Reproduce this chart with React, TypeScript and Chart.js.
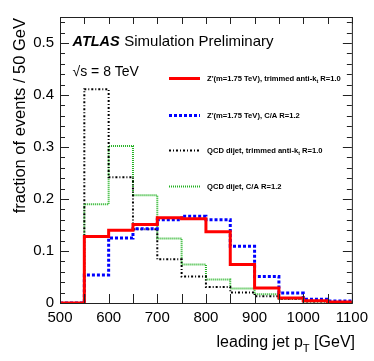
import React, { useEffect, useRef } from 'react';
import { Chart, registerables } from 'chart.js';

Chart.register(...registerables);

// ---------- data ----------
const binLowEdges = [500, 550, 600, 650, 700, 750, 800, 850, 900, 950, 1000, 1050];
const lastBinUpEdge = 1100;

const zpTrimmed = [0, 0.128, 0.140, 0.151, 0.164, 0.162, 0.137, 0.074, 0.029, 0.0096, 0.0045, 0.002];
const zpCA = [0, 0.054, 0.125, 0.143, 0.160, 0.167, 0.160, 0.109, 0.051, 0.019, 0.007, 0.004];
const qcdTrimmed = [0, 0.411, 0.242, 0.142, 0.084, 0.051, 0.031, 0.020, 0.013, 0.008, 0.003, 0.001];
const qcdCA = [0, 0.190, 0.302, 0.207, 0.124, 0.074, 0.045, 0.028, 0.017, 0.008, 0.003, 0.002];

const seriesLabels = [
  "Z'(m=1.75 TeV), trimmed anti-k_{t} R=1.0",
  "Z'(m=1.75 TeV), C/A R=1.2",
  'QCD dijet, trimmed anti-k_{t} R=1.0',
  'QCD dijet, C/A R=1.2',
];

const xTickValues = [500, 600, 700, 800, 900, 1000, 1100];
const xTickLabels = ['500', '600', '700', '800', '900', '1000', '1100'];
const yTickValues = [0, 0.1, 0.2, 0.3, 0.4, 0.5];
const yTickLabels = ['0', '0.1', '0.2', '0.3', '0.4', '0.5'];

const xTitle = 'leading jet p_{T} [GeV]';
const yTitle = 'fraction of events / 50 GeV';
const atlasLabel = 'ATLAS';
const atlasSub = 'Simulation Preliminary';
const energyLabel = '√s = 8 TeV';

const FONT = '"Liberation Sans", Arial, Helvetica, sans-serif';

function toSteps(values: number[]) {
  // point at each bin's low edge carries that bin's value; with stepped 'before'
  // the line runs flat at the previous bin's value, then jumps at the edge
  const pts = binLowEdges.map((x, i) => ({ x, y: values[i] }));
  pts.push({ x: lastBinUpEdge, y: values[values.length - 1] });
  return pts;
}

// draw text with _{...} subscripts
function drawRich(
  ctx: CanvasRenderingContext2D,
  text: string,
  x: number,
  y: number,
  size: number,
  weight: string,
  align: 'left' | 'right'
) {
  const parts: { t: string; sub: boolean }[] = [];
  const re = /_\{([^}]*)\}/g;
  let last = 0;
  let m;
  while ((m = re.exec(text))) {
    if (m.index > last) parts.push({ t: text.slice(last, m.index), sub: false });
    parts.push({ t: m[1], sub: true });
    last = m.index + m[0].length;
  }
  if (last < text.length) parts.push({ t: text.slice(last), sub: false });
  const mainFont = `${weight} ${size}px ${FONT}`;
  const subFont = `${weight} ${size * 0.7}px ${FONT}`;
  let total = 0;
  const widths = parts.map((p) => {
    ctx.font = p.sub ? subFont : mainFont;
    const w = ctx.measureText(p.t).width;
    total += w;
    return w;
  });
  let cx = align === 'right' ? x - total : x;
  ctx.textAlign = 'left';
  parts.forEach((p, i) => {
    ctx.font = p.sub ? subFont : mainFont;
    ctx.fillText(p.t, cx, p.sub ? y + size * 0.3 : y);
    cx += widths[i];
  });
}

const decorPlugin = {
  id: 'decor',
  afterDraw(chart: any) {
    const ctx: CanvasRenderingContext2D = chart.ctx;
    const { left, right, top, bottom } = chart.chartArea;
    const xs = chart.scales.x;
    const ys = chart.scales.y;
    ctx.save();
    // frame
    ctx.strokeStyle = '#222';
    ctx.lineWidth = 1;
    ctx.strokeRect(left + 0.5, top + 0.5, right - left, bottom - top);
    // x ticks every 50
    ctx.beginPath();
    for (let v = 500; v <= 1100; v += 50) {
      const px = Math.round(xs.getPixelForValue(v)) + 0.5;
      ctx.moveTo(px, bottom);
      ctx.lineTo(px, bottom - 9);
      ctx.moveTo(px, top);
      ctx.lineTo(px, top + 7);
    }
    // y ticks every 0.02, major every 0.1
    for (let i = 0; i <= 27; i++) {
      const v = i * 0.02;
      const py = Math.round(ys.getPixelForValue(v)) + 0.5;
      const major = i % 5 === 0;
      const len = major ? 9 : 5;
      ctx.moveTo(left, py);
      ctx.lineTo(left + len, py);
      ctx.moveTo(right, py);
      ctx.lineTo(right - len, py);
    }
    ctx.stroke();

    ctx.fillStyle = '#000';
    ctx.textBaseline = 'alphabetic';
    // x title
    drawRich(ctx, xTitle, 355, 347, 16, 'normal', 'right');
    // y title
    ctx.save();
    ctx.translate(25, 18);
    ctx.rotate(-Math.PI / 2);
    ctx.font = `16.5px ${FONT}`;
    ctx.textAlign = 'right';
    ctx.fillText(yTitle, 0, 0);
    ctx.restore();

    // ATLAS label
    ctx.textAlign = 'left';
    ctx.font = `italic bold 14.5px ${FONT}`;
    ctx.fillText(atlasLabel, 72.5, 46);
    const aw = ctx.measureText(atlasLabel).width;
    ctx.font = `15px ${FONT}`;
    ctx.fillText(atlasSub, 72.5 + aw + 4.5, 46);
    ctx.font = `14px ${FONT}`;
    ctx.fillText(energyLabel, 72.5, 76);

    // legend
    const legendY = [78.5, 115.5, 150.5, 186.5];
    chart.data.datasets.forEach((ds: any, i: number) => {
      const y = legendY[i];
      ctx.save();
      ctx.strokeStyle = ds.borderColor;
      ctx.lineWidth = ds.borderWidth;
      ctx.setLineDash(ds.borderDash || []);
      ctx.beginPath();
      ctx.moveTo(169, y);
      ctx.lineTo(200, y);
      ctx.stroke();
      ctx.restore();
      ctx.fillStyle = '#000';
      drawRich(ctx, ds.label, 207, y + 2.5, 7.6, 'bold', 'left');
    });
    ctx.restore();
  },
};

export default function App() {
  const ref = useRef<HTMLCanvasElement>(null);
  useEffect(() => {
    document.body.style.margin = '0';
    const canvas = ref.current!;
    const common = { stepped: 'before' as const, pointRadius: 0, fill: false };
    const chart = new Chart(canvas, {
      type: 'line',
      data: {
        datasets: [
          {
            label: seriesLabels[0],
            data: toSteps(zpTrimmed),
            borderColor: '#ff0000',
            borderWidth: 3,
            ...common,
          },
          {
            label: seriesLabels[1],
            data: toSteps(zpCA),
            borderColor: '#0000ff',
            borderWidth: 3,
            borderDash: [3, 2],
            ...common,
          },
          {
            label: seriesLabels[2],
            data: toSteps(qcdTrimmed),
            borderColor: '#000000',
            borderWidth: 2,
            borderDash: [2, 2, 1, 2],
            ...common,
          },
          {
            label: seriesLabels[3],
            data: toSteps(qcdCA),
            borderColor: '#22b222',
            borderWidth: 2,
            borderDash: [1, 1],
            ...common,
          },
        ],
      },
      options: {
        responsive: false,
        animation: false,
        events: [],
        layout: { padding: { left: 0, top: 17, right: 19, bottom: 0 } },
        plugins: { legend: { display: false }, tooltip: { enabled: false }, title: { display: false } },
        scales: {
          x: {
            type: 'linear',
            min: 500,
            max: 1100,
            afterBuildTicks: (s: any) => {
              s.ticks = xTickValues.map((v) => ({ value: v }));
            },
            afterFit: (s: any) => {
              s.height = 58;
            },
            ticks: {
              autoSkip: false,
              maxRotation: 0,
              padding: 6,
              color: '#000',
              font: { family: FONT, size: 15 },
              callback: (v: any) => xTickLabels[xTickValues.indexOf(Number(v))] ?? '',
            },
            grid: { display: false, drawTicks: false },
            border: { display: false },
          },
          y: {
            type: 'linear',
            min: 0,
            max: 0.55,
            afterBuildTicks: (s: any) => {
              s.ticks = yTickValues.map((v) => ({ value: v }));
            },
            afterFit: (s: any) => {
              s.width = 60;
            },
            ticks: {
              autoSkip: false,
              padding: 6,
              color: '#000',
              font: { family: FONT, size: 15 },
              callback: (v: any) => {
                const idx = yTickValues.findIndex((t) => Math.abs(t - Number(v)) < 1e-9);
                return idx >= 0 ? yTickLabels[idx] : '';
              },
            },
            grid: { display: false, drawTicks: false },
            border: { display: false },
          },
        },
      },
      plugins: [decorPlugin],
    });
    return () => chart.destroy();
  }, []);
  return (
    <div style={{ width: 374, height: 361, background: '#fff' }}>
      <canvas ref={ref} width={374} height={361} style={{ width: 374, height: 361, display: 'block' }} />
    </div>
  );
}
